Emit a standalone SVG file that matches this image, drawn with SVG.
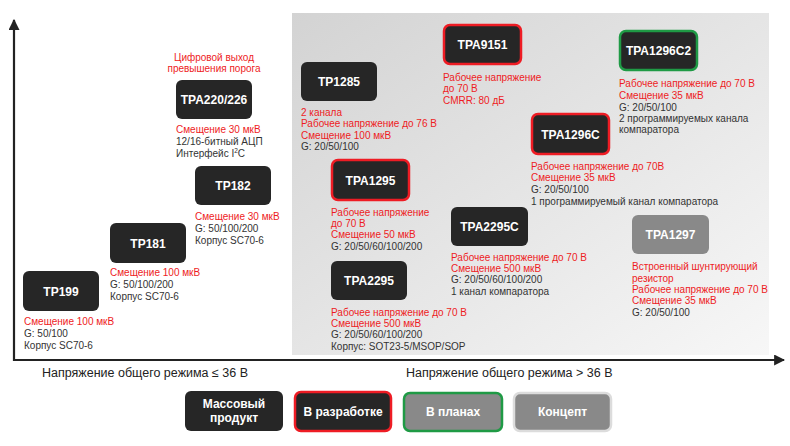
<svg xmlns="http://www.w3.org/2000/svg" width="790" height="446" viewBox="0 0 790 446">
<defs>
<linearGradient id="bg" x1="0" y1="0" x2="1" y2="1">
<stop offset="0" stop-color="#d3d3d3"/>
<stop offset="1" stop-color="#f7f7f7"/>
</linearGradient>
<marker id="ah" viewBox="0 0 10 10" refX="9" refY="5" markerWidth="5" markerHeight="5" orient="auto" markerUnits="strokeWidth">
<path d="M0,0 L10,5 L0,10 z" fill="#222"/>
</marker>
</defs>
<style>
.n{fill:#262626;}
.dev{stroke:#ee1c24;stroke-width:2.5;}
.plan{stroke:#1f9a45;stroke-width:2.5;}
.con{fill:#898989;}
.lb{font-family:"Liberation Sans",Arial,sans-serif;font-weight:bold;font-size:12px;fill:#fff;text-anchor:middle;}
.t{font-family:"Liberation Sans",Arial,sans-serif;font-size:10px;fill:#333;}
.r{fill:#ee1c24;}
.ax{font-family:"Liberation Sans",Arial,sans-serif;font-size:12.5px;fill:#222;}
</style>
<rect x="292" y="13" width="477" height="342" fill="url(#bg)"/>
<g id="connectors">
<line x1="14" y1="361" x2="14" y2="20" stroke="#222" stroke-width="2.2" marker-end="url(#ah)"/>
<line x1="13" y1="360" x2="784" y2="360" stroke="#222" stroke-width="2.2" marker-end="url(#ah)"/>
</g>
<g id="TPA220">
<text class="t r" x="214" y="61" text-anchor="middle">Цифровой выход</text>
<text class="t r" x="214" y="72" text-anchor="middle">превышения порога</text>
<rect class="n" x="176" y="80" width="76" height="39" rx="6"/>
<text class="lb" x="214" y="104">TPA220/226</text>
<text class="t r" x="176" y="133">Смещение 30 мкВ</text>
<text class="t" x="176" y="145">12/16-битный АЦП</text>
<text class="t" x="176" y="157">Интерфейс I<tspan font-size="6.5" dy="-4">2</tspan><tspan dy="4">C</tspan></text>
</g>
<g id="TP182">
<rect class="n" x="195" y="166" width="76" height="39" rx="6"/>
<text class="lb" x="233" y="190">TP182</text>
<text class="t r" x="195" y="220">Смещение 30 мкВ</text>
<text class="t" x="195" y="232">G: 50/100/200</text>
<text class="t" x="195" y="244">Корпус SC70-6</text>
</g>
<g id="TP181">
<rect class="n" x="110" y="223" width="76" height="40" rx="6"/>
<text class="lb" x="148" y="248">TP181</text>
<text class="t r" x="110" y="276">Смещение 100 мкВ</text>
<text class="t" x="110" y="288">G: 50/100/200</text>
<text class="t" x="110" y="300">Корпус SC70-6</text>
</g>
<g id="TP199">
<rect class="n" x="23" y="271" width="76" height="40" rx="6"/>
<text class="lb" x="61" y="296">TP199</text>
<text class="t r" x="24" y="325">Смещение 100 мкВ</text>
<text class="t" x="24" y="337">G: 50/100</text>
<text class="t" x="24" y="349">Корпус SC70-6</text>
</g>
<g id="TP1285">
<rect class="n" x="301" y="62" width="76" height="39" rx="6"/>
<text class="lb" x="339" y="86">TP1285</text>
<text class="t r" x="301" y="116">2 канала</text>
<text class="t r" x="301" y="127">Рабочее напряжение до 76 В</text>
<text class="t r" x="301" y="139">Смещение 100 мкВ</text>
<text class="t" x="301" y="150">G: 20/50/100</text>
</g>
<g id="TPA9151">
<rect class="n dev" x="444" y="25" width="77" height="39" rx="6"/>
<text class="lb" x="482.5" y="49">TPA9151</text>
<text class="t r" x="443" y="81">Рабочее напряжение</text>
<text class="t r" x="443" y="92">до 70 В</text>
<text class="t r" x="443" y="104">CMRR: 80 дБ</text>
</g>
<g id="TPA1296C2">
<rect class="n plan" x="620" y="31" width="77" height="39" rx="6"/>
<text class="lb" x="658.5" y="55">TPA1296C2</text>
<text class="t r" x="619" y="87">Рабочее напряжение до 70 В</text>
<text class="t r" x="619" y="99">Смещение 35 мкВ</text>
<text class="t" x="619" y="111">G: 20/50/100</text>
<text class="t" x="619" y="122">2 программируемых канала</text>
<text class="t" x="619" y="133">компаратора</text>
</g>
<g id="TPA1296C">
<rect class="n dev" x="532" y="114" width="77" height="40" rx="6"/>
<text class="lb" x="570.5" y="139">TPA1296C</text>
<text class="t r" x="531" y="170">Рабочее напряжение до 70В</text>
<text class="t r" x="531" y="181">Смещение 35 мкВ</text>
<text class="t" x="531" y="193">G: 20/50/100</text>
<text class="t" x="531" y="205">1 программируемый канал компаратора</text>
</g>
<g id="TPA1295">
<rect class="n dev" x="332" y="160" width="77" height="40" rx="6"/>
<text class="lb" x="370.5" y="185">TPA1295</text>
<text class="t r" x="331" y="216">Рабочее напряжение</text>
<text class="t r" x="331" y="227">до 70 В</text>
<text class="t r" x="331" y="238">Смещение 50 мкВ</text>
<text class="t" x="331" y="250">G: 20/50/60/100/200</text>
</g>
<g id="TPA2295C">
<rect class="n" x="451" y="207" width="77" height="39" rx="6"/>
<text class="lb" x="489.5" y="231">TPA2295C</text>
<text class="t r" x="451" y="261">Рабочее напряжение до 70 В</text>
<text class="t r" x="451" y="272">Смещение 500 мкВ</text>
<text class="t" x="451" y="283">G: 20/50/60/100/200</text>
<text class="t" x="451" y="295">1 канал компаратора</text>
</g>
<g id="TPA2295">
<rect class="n" x="331" y="261" width="76" height="39" rx="6"/>
<text class="lb" x="369" y="285">TPA2295</text>
<text class="t r" x="331" y="316">Рабочее напряжение до 70 В</text>
<text class="t r" x="331" y="327">Смещение 500 мкВ</text>
<text class="t" x="331" y="338">G: 20/50/60/100/200</text>
<text class="t" x="331" y="350">Корпус: SOT23-5/MSOP/SOP</text>
</g>
<g id="TPA1297">
<rect class="con" x="632" y="215" width="77" height="39" rx="6"/>
<text class="lb" x="670.5" y="239">TPA1297</text>
<text class="t r" x="632" y="270">Встроенный шунтирующий</text>
<text class="t r" x="632" y="282">резистор</text>
<text class="t r" x="632" y="293">Рабочее напряжение до 70 В</text>
<text class="t r" x="632" y="304">Смещение 35 мкВ</text>
<text class="t" x="632" y="316">G: 20/50/100</text>
</g>
<g id="axis-labels">
<text class="ax" x="42" y="377">Напряжение общего режима ≤ 36 В</text>
<text class="ax" x="406" y="377">Напряжение общего режима &gt; 36 В</text>
</g>
<g id="legend-mass">
<rect class="n" x="185" y="391" width="98" height="40" rx="6"/>
<text class="lb" x="234" y="408">Массовый</text>
<text class="lb" x="234" y="422">продукт</text>
</g>
<g id="legend-dev">
<rect class="n dev" x="295" y="392" width="96" height="39" rx="6"/>
<text class="lb" x="343" y="416">В разработке</text>
</g>
<g id="legend-plan">
<rect class="con plan" x="404" y="393" width="98" height="38" rx="6"/>
<text class="lb" x="453" y="416">В планах</text>
</g>
<g id="legend-concept">
<rect class="con" x="514" y="393" width="97" height="38" rx="6" stroke="#dcdcdc" stroke-width="2.5"/>
<text class="lb" x="562.5" y="416">Концепт</text>
</g>
</svg>
